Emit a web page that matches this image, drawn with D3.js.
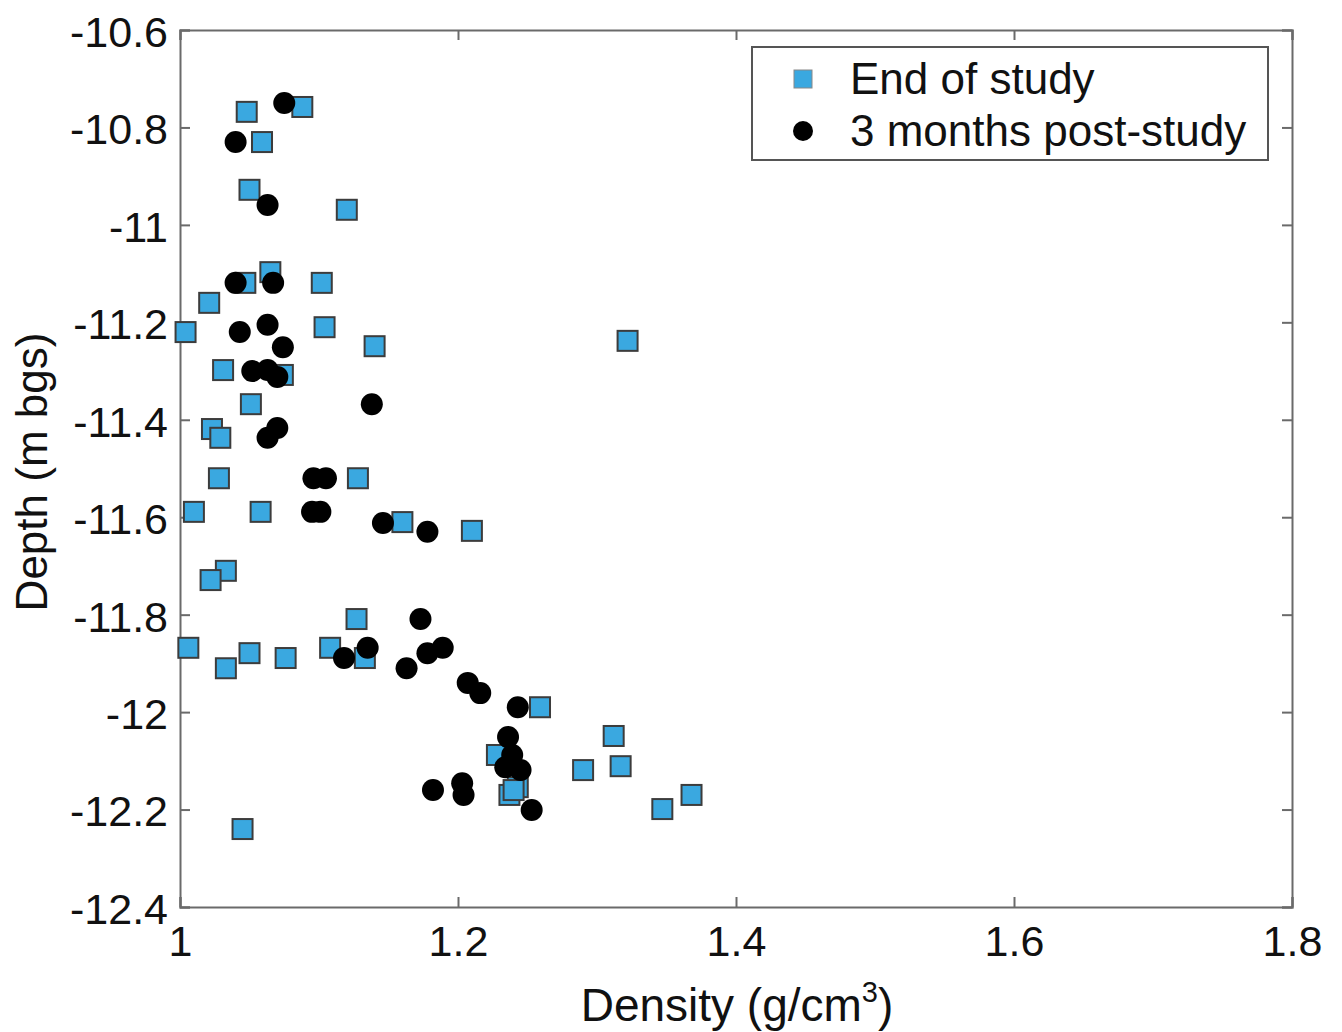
<!DOCTYPE html>
<html>
<head>
<meta charset="utf-8">
<script src="https://cdn.jsdelivr.net/npm/d3@7"></script>
<style>
  html, body { margin: 0; padding: 0; background: #fff; }
  svg { display: block; }
  text { font-family: "Liberation Sans", Arial, sans-serif; fill: #111; }
</style>
</head>
<body>
<svg id="chart" width="1342" height="1032"></svg>
<script>
// Data: [density (g/cm3), depth (m bgs)]
const endOfStudy = [
  [1.048,-10.768],[1.088,-10.758],[1.059,-10.830],[1.050,-10.928],[1.120,-10.969],
  [1.065,-11.097],[1.047,-11.119],[1.102,-11.119],[1.021,-11.160],[1.004,-11.220],
  [1.104,-11.210],[1.140,-11.249],[1.322,-11.238],[1.031,-11.298],[1.074,-11.308],
  [1.051,-11.368],[1.023,-11.419],[1.029,-11.437],[1.028,-11.520],[1.128,-11.520],
  [1.010,-11.589],[1.058,-11.589],[1.160,-11.610],[1.210,-11.628],[1.033,-11.710],
  [1.022,-11.729],[1.127,-11.809],[1.006,-11.868],[1.108,-11.868],[1.133,-11.889],
  [1.050,-11.879],[1.033,-11.910],[1.076,-11.889],[1.259,-11.990],[1.312,-12.049],
  [1.228,-12.088],[1.290,-12.119],[1.317,-12.111],[1.237,-12.170],[1.243,-12.154],
  [1.240,-12.160],[1.368,-12.170],[1.347,-12.199],[1.045,-12.240]
];
const postStudy = [
  [1.075,-10.750],[1.040,-10.830],[1.063,-10.959],[1.040,-11.119],[1.067,-11.119],
  [1.043,-11.220],[1.063,-11.205],[1.074,-11.251],[1.052,-11.300],[1.063,-11.298],
  [1.070,-11.312],[1.070,-11.417],[1.063,-11.437],[1.138,-11.368],[1.096,-11.520],
  [1.105,-11.520],[1.095,-11.589],[1.101,-11.589],[1.146,-11.612],[1.178,-11.630],
  [1.173,-11.809],[1.118,-11.889],[1.135,-11.868],[1.163,-11.910],[1.178,-11.879],
  [1.189,-11.868],[1.207,-11.940],[1.216,-11.961],[1.243,-11.990],[1.236,-12.051],
  [1.239,-12.088],[1.234,-12.113],[1.245,-12.119],[1.182,-12.160],[1.203,-12.146],
  [1.204,-12.170],[1.253,-12.201]
];
const xTicks = [1, 1.2, 1.4, 1.6, 1.8];
const yTicks = [-10.6, -10.8, -11, -11.2, -11.4, -11.6, -11.8, -12, -12.2, -12.4];
const seriesNames = ["End of study", "3 months post-study"];

const L = 180, R = 1292, T = 30, B = 907;
const svg = d3.select("#chart");
const x = d3.scaleLinear().domain([1, 1.8]).range([L, R]);
const y = d3.scaleLinear().domain([-10.6, -12.4]).range([T, B]);
const axisColor = "#6a6a6a";
const fmt = d => String(+d.toFixed(1));

// Axes (inward ticks, mirrored)
const gx = svg.append("g").attr("transform", `translate(0,${B})`)
  .call(d3.axisBottom(x).tickValues(xTicks).tickSize(-10).tickPadding(18).tickFormat(fmt));
const gxt = svg.append("g").attr("transform", `translate(0,${T})`)
  .call(d3.axisTop(x).tickValues(xTicks).tickSize(-10).tickFormat(""));
const gy = svg.append("g").attr("transform", `translate(${L},0)`)
  .call(d3.axisLeft(y).tickValues(yTicks).tickSize(-10).tickPadding(12).tickFormat(fmt));
const gyr = svg.append("g").attr("transform", `translate(${R},0)`)
  .call(d3.axisRight(y).tickValues(yTicks).tickSize(-10).tickFormat(""));
[gx, gxt, gy, gyr].forEach(g => {
  g.select(".domain").attr("stroke", axisColor).attr("stroke-width", 2);
  g.selectAll(".tick line").attr("stroke", axisColor).attr("stroke-width", 2);
  g.selectAll(".tick text").attr("font-size", 43).attr("fill", "#111")
    .attr("font-family", "'Liberation Sans', Arial, sans-serif");
});
gx.selectAll(".tick text").attr("dy", "0.71em");
gy.selectAll(".tick text").attr("dy", "0.38em");

// Points
const sq = 20;
svg.append("g").selectAll("rect").data(endOfStudy).join("rect")
  .attr("x", d => x(d[0]) - sq/2).attr("y", d => y(d[1]) - sq/2)
  .attr("width", sq).attr("height", sq)
  .attr("fill", "#3aa8e0").attr("stroke", "#3c3c3c").attr("stroke-width", 2);
svg.append("g").selectAll("circle").data(postStudy).join("circle")
  .attr("cx", d => x(d[0])).attr("cy", d => y(d[1])).attr("r", 11)
  .attr("fill", "#000");

// Axis titles
const xt = svg.append("text").attr("x", 737).attr("y", 1021).attr("text-anchor", "middle")
  .attr("font-size", 46);
xt.append("tspan").text("Density (g/cm");
xt.append("tspan").text("3").attr("font-size", 29).attr("dy", -19);
xt.append("tspan").text(")").attr("dy", 19);
svg.append("text").attr("transform", `translate(47,472) rotate(-90)`)
  .attr("text-anchor", "middle").attr("font-size", 44).text("Depth (m bgs)");

// Legend
const lg = svg.append("g");
lg.append("rect").attr("x", 752).attr("y", 47).attr("width", 516).attr("height", 113)
  .attr("fill", "#fff").attr("stroke", "#555").attr("stroke-width", 2);
lg.append("rect").attr("x", 803 - 9).attr("y", 79 - 9).attr("width", 18).attr("height", 18)
  .attr("fill", "#3aa8e0").attr("stroke", "#888").attr("stroke-width", 1);
lg.append("circle").attr("cx", 803).attr("cy", 131).attr("r", 10).attr("fill", "#000");
lg.append("text").attr("x", 850).attr("y", 94).attr("font-size", 44).text(seriesNames[0]);
lg.append("text").attr("x", 850).attr("y", 146).attr("font-size", 44).text(seriesNames[1]);
</script>
</body>
</html>
